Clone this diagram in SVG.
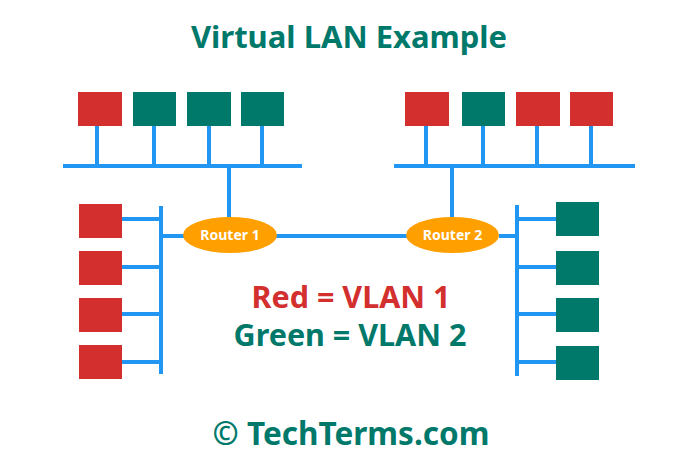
<svg xmlns="http://www.w3.org/2000/svg" width="700" height="466" viewBox="0 0 700 466">
<style>
.red{fill:#D32F2F}
.grn{fill:#00796B}
.ln{stroke:#2196F3;stroke-width:4;fill:none}
.rt{fill:#FFA000}
.rtxt{font-family:"Noto Sans",sans-serif;font-weight:bold;font-size:14px;fill:#fff;text-anchor:middle}
.big{font-family:"Noto Sans",sans-serif;font-weight:bold;text-anchor:middle}
</style>
<rect width="700" height="466" fill="#fff"/>
<text class="big" x="349" y="48" font-size="31" fill="#00796B">Virtual LAN Example</text>
<g id="connectors">
<path class="ln" d="M63 166H302M97 126V166M154 126V166M209 126V166M262 126V166M229 166V218"/>
<path class="ln" d="M394 166H635M426 126V166M483 126V166M537 126V166M591 126V166M452 166V218"/>
<path class="ln" d="M161 206V374M122 219H161M122 267H161M122 314H161M122 362H161M161 236H184"/>
<path class="ln" d="M517 205V376M517 219H556M517 267H556M517 314H556M517 362H556M499 236H517"/>
<path class="ln" d="M276 236H407"/>
</g>
<g id="tl1"><rect class="red" x="78" y="92" width="44" height="34"/></g>
<g id="tl2"><rect class="grn" x="133" y="92" width="43" height="34"/></g>
<g id="tl3"><rect class="grn" x="187" y="92" width="44" height="34"/></g>
<g id="tl4"><rect class="grn" x="241" y="92" width="43" height="34"/></g>
<g id="tr1"><rect class="red" x="405" y="92" width="44" height="34"/></g>
<g id="tr2"><rect class="grn" x="462" y="92" width="43" height="34"/></g>
<g id="tr3"><rect class="red" x="516" y="92" width="44" height="34"/></g>
<g id="tr4"><rect class="red" x="570" y="92" width="43" height="34"/></g>
<g id="l1"><rect class="red" x="79" y="204" width="43" height="34"/></g>
<g id="l2"><rect class="red" x="79" y="251" width="43" height="34"/></g>
<g id="l3"><rect class="red" x="79" y="298" width="43" height="34"/></g>
<g id="l4"><rect class="red" x="79" y="345" width="43" height="34"/></g>
<g id="r1"><rect class="grn" x="556" y="202" width="43" height="34"/></g>
<g id="r2"><rect class="grn" x="556" y="251" width="43" height="34"/></g>
<g id="r3"><rect class="grn" x="556" y="298" width="43" height="34"/></g>
<g id="r4"><rect class="grn" x="556" y="346" width="43" height="34"/></g>
<g id="router1"><ellipse class="rt" cx="230" cy="235" rx="47" ry="18"/><text class="rtxt" x="230" y="240">Router 1</text></g>
<g id="router2"><ellipse class="rt" cx="452.5" cy="235" rx="46.5" ry="18"/><text class="rtxt" x="452.5" y="240">Router 2</text></g>
<text class="big" x="351" y="308" font-size="30.5" fill="#D32F2F">Red = VLAN 1</text>
<text class="big" x="350" y="346" font-size="30.5" fill="#00796B">Green = VLAN 2</text>
<text class="big" x="351" y="445" font-size="31.5" fill="#00796B">© TechTerms.com</text>
</svg>
